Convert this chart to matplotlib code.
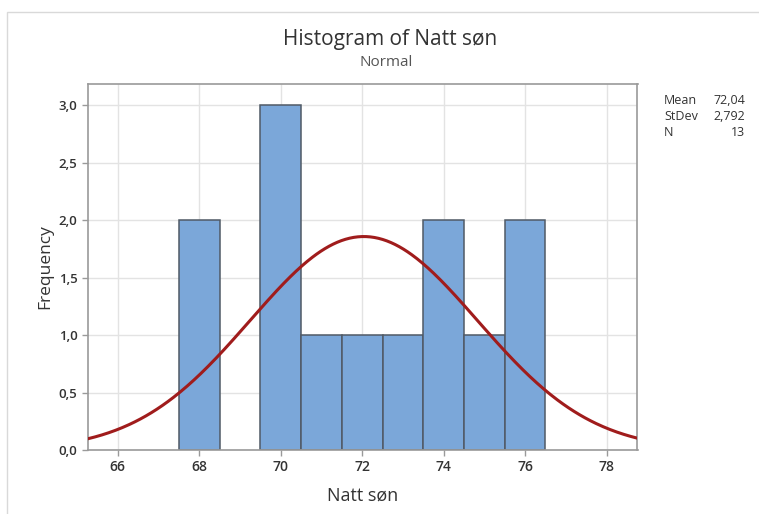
import numpy as np
import matplotlib.pyplot as plt
from matplotlib.patches import Rectangle

# histogram bins (centres, width 1) and counts
bin_centers = [68, 70, 71, 72, 73, 74, 75, 76]
counts = [2, 3, 1, 1, 1, 2, 1, 2]
mean, stdev, n = 72.04, 2.792, 13
x_ticks = [66, 68, 70, 72, 74, 76, 78]
y_ticks = [0.0, 0.5, 1.0, 1.5, 2.0, 2.5, 3.0]

plt.rcParams['font.family'] = ['Open Sans', 'DejaVu Sans']

W, H = 759, 514
fig = plt.figure(figsize=(W / 100, H / 100), dpi=100)

# light outer frame (top and left visible)
fig.add_artist(Rectangle((7 / W, -0.1), 2, 1.1 - 12 / H, transform=fig.transFigure,
                         fill=False, edgecolor='#d9d9d9', linewidth=1))

ax = fig.add_axes([88 / W, 1 - 450 / H, (637.5 - 88) / W, (450 - 84) / H])

ax.bar(bin_centers, counts, width=1.0, color='#7ba7d9', edgecolor='#505a66',
       linewidth=1.1, zorder=2)

xs = np.linspace(65.27, 78.76, 400)
pdf = n * 1.0 / (stdev * np.sqrt(2 * np.pi)) * np.exp(-0.5 * ((xs - mean) / stdev) ** 2)
ax.plot(xs, pdf, color='#a01c1c', linewidth=2.2, zorder=3)

ax.set_xlim(65.27, 78.76)
ax.set_ylim(0, 3.185)
ax.set_xticks(x_ticks)
ax.set_yticks(y_ticks)
ax.set_yticklabels([f'{v:.1f}'.replace('.', ',') for v in y_ticks])
ax.grid(True, color='#e3e3e3', linewidth=1, zorder=0)
ax.set_axisbelow(True)
for s in ax.spines.values():
    s.set_color('#9a9a9a')
    s.set_linewidth(1.2)
ax.tick_params(colors='#9a9a9a', labelcolor='#333333', length=4, width=1)
ax.tick_params(axis='x', labelsize=10)
ax.tick_params(axis='y', labelsize=9.5)
for lab in ax.get_xticklabels() + ax.get_yticklabels():
    lab.set_fontweight('semibold')

ax.set_xlabel('Natt søn', fontsize=13, color='#333333', labelpad=9)
ax.set_ylabel('Frequency', fontsize=12.5, color='#333333', labelpad=4)

fig.text(390 / W, 1 - 40 / H, 'Histogram of Natt søn', ha='center', va='center',
         fontsize=15, color='#333333')
fig.text(386 / W, 1 - 63 / H, 'Normal', ha='center', va='center',
         fontsize=11, color='#555555')

stats = [('Mean', '72,04'), ('StDev', '2,792'), ('N', '13')]
for i, (k, v) in enumerate(stats):
    y = 1 - (101 + 16 * i) / H
    fig.text(664 / W, y, k, ha='left', va='center', fontsize=9, color='#333333')
    fig.text(745 / W, y, v, ha='right', va='center', fontsize=9, color='#333333')

fig.savefig('out.png', dpi=100)
